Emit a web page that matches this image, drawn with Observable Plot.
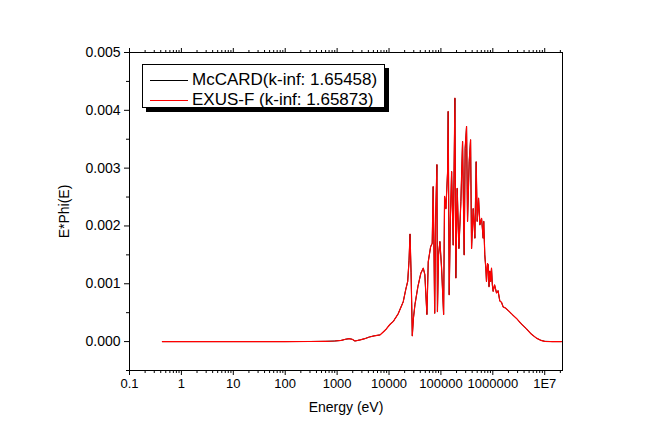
<!DOCTYPE html>
<html>
<head>
<meta charset="utf-8">
<script src="https://cdn.jsdelivr.net/npm/d3@7"></script>
<script src="https://cdn.jsdelivr.net/npm/@observablehq/plot@0.6"></script>
<style>
  html, body { margin: 0; padding: 0; background: #fff; }
  #wrap { position: relative; width: 650px; height: 424px; font-family: "Liberation Sans", Arial, sans-serif; }
  #legend { position: absolute; box-sizing: border-box; left: 142px; top: 64px; width: 243px; height: 44px; background: #fff; border: 1px solid #000; box-shadow: 4px 4px 0 #000; font-size: 17px; }
  .row { position: absolute; left: 7px; height: 20px; display: flex; align-items: center; white-space: nowrap; }
  .sw { width: 38px; height: 0; border-top: 1px solid; margin-right: 4px; }
</style>
</head>
<body>
<div id="wrap"></div>
<script>
// Energy grid (eV)
const energy = [
  0.43, 1, 10, 100, 300, 600, 900, 1200, 1450, 1700,
  1950, 2200, 2500, 2800, 3400, 4200, 5200, 6700, 8500, 10500,
  12100, 15000, 18800, 21000, 22900, 24300, 25400, 26600, 28100, 29500,
  31600, 36000, 41000, 45700, 49000, 53700, 57000, 63300, 68000, 70900,
  73500, 75800, 79000, 83700, 85700, 90000, 95600, 103000, 112700, 117600,
  124700, 134500, 138000, 144400, 152000, 160700, 172600, 186000, 194000, 205800,
  222000, 242500, 261200, 280600, 293100, 311700, 325800, 350500, 372600, 389300,
  418800, 451000, 478000, 500000, 531000, 563000, 607000, 652000, 668000, 700000,
  733000, 755000, 790000, 813000, 845000, 875000, 910000, 943000, 980000, 1015000,
  1080000, 1180000, 1260000, 1365000, 1470000, 1580000, 1750000, 1970000, 2350000, 2860000,
  3500000, 4450000, 5500000, 6920000, 8500000, 10000000, 14000000, 21000000
];
// McCARD E*Phi(E)
const mccard = [
  0, 0, 0, 0, 0.000002, 0.000005, 0.00001, 0.00002, 0.00004, 0.00005,
  0.00004, 0.00001, 0.00002, 0.00003, 0.00005, 0.00008, 0.0001, 0.000115, 0.0002, 0.0003,
  0.00035, 0.00048, 0.00069, 0.0009, 0.00104, 0.0014, 0.00186, 0.0012, 0.0001, 0.0004,
  0.00064, 0.00095, 0.00118, 0.00127, 0.00116, 0.00047, 0.00138, 0.00164, 0.0017, 0.00268,
  0.0016, 0.00049, 0.0021, 0.00306, 0.00052, 0.0015, 0.00173, 0.00127, 0.00047, 0.00251,
  0.0023, 0.00294, 0.00398, 0.00081, 0.0021, 0.00294, 0.00167, 0.00421, 0.0011, 0.00265,
  0.00161, 0.00242, 0.00346, 0.0015, 0.00334, 0.00372, 0.00208, 0.00311, 0.00349, 0.00161,
  0.0023, 0.00179, 0.00311, 0.00208, 0.00248, 0.00202, 0.00213, 0.00179, 0.00208, 0.0015,
  0.00127, 0.00104, 0.00135, 0.00133, 0.00095, 0.00122, 0.00104, 0.00127, 0.00098, 0.00087,
  0.00098, 0.00084, 0.00088, 0.0007, 0.00068, 0.0006, 0.00058, 0.00054, 0.00047, 0.0004,
  0.00031, 0.00022, 0.00013, 0.00006, 0.00002, 0.000005, 0, 0
];
// EXUS-F E*Phi(E)
const exus = [
  0, 0, 0, 0, 0.000002, 0.000005, 0.00001, 0.00002, 0.00004, 0.00005,
  0.00004, 0.00001, 0.00002, 0.00003, 0.00005, 0.00008, 0.0001, 0.000115, 0.0002, 0.0003,
  0.00035, 0.00048, 0.00069, 0.0009, 0.00104, 0.0014, 0.00186, 0.0012, 0.0001, 0.0004,
  0.00064, 0.00095, 0.00118, 0.00127, 0.00116, 0.00047, 0.00138, 0.00164, 0.0017, 0.00268,
  0.0016, 0.00049, 0.0021, 0.00306, 0.00052, 0.0015, 0.00173, 0.00127, 0.00047, 0.00251,
  0.0023, 0.00294, 0.00398, 0.00081, 0.0021, 0.00294, 0.00167, 0.00421, 0.0011, 0.00265,
  0.00161, 0.00242, 0.00346, 0.0015, 0.00334, 0.00372, 0.00208, 0.00311, 0.00349, 0.00161,
  0.0023, 0.00179, 0.00311, 0.00208, 0.00248, 0.00202, 0.00213, 0.00179, 0.00208, 0.0015,
  0.00127, 0.00104, 0.00135, 0.00133, 0.00095, 0.00122, 0.00104, 0.00127, 0.00098, 0.00087,
  0.00098, 0.00084, 0.00088, 0.0007, 0.00068, 0.0006, 0.00058, 0.00054, 0.00047, 0.0004,
  0.00031, 0.00022, 0.00013, 0.00006, 0.00002, 0.000005, 0, 0
];

const xMajor = [0.1, 1, 10, 100, 1000, 10000, 100000, 1000000, 10000000];
const xMajorLabels = ["0.1", "1", "10", "100", "1000", "10000", "100000", "1000000", "1E7"];
const yMajor = [0, 0.001, 0.002, 0.003, 0.004, 0.005];
const yMinor = [-0.0005, 0.0005, 0.0015, 0.0025, 0.0035, 0.0045];
const seriesNames = ["McCARD(k-inf: 1.65458)", "EXUS-F (k-inf: 1.65873)"];
const seriesColors = ["#000000", "#ff0000"];
const xTitle = "Energy (eV)";
const yTitle = "E*Phi(E)";

const xMinor = [];
for (const d of xMajor) for (let k = 2; k <= 9; k++) if (d * k < 2.2e7) xMinor.push(d * k);

const rowsM = energy.map((e, i) => ({e, v: mccard[i]}));
const rowsE = energy.map((e, i) => ({e, v: exus[i]}));
const labelOf = new Map(xMajor.map((d, i) => [d, xMajorLabels[i]]));
const blank = () => "";

const chart = Plot.plot({
  width: 650, height: 424,
  marginLeft: 129, marginRight: 88, marginTop: 52, marginBottom: 54,
  style: {fontFamily: "Liberation Sans, Arial, sans-serif", fontSize: "14px", color: "#000", background: "#fff"},
  x: {type: "log", domain: [0.1, 2.2e7]},
  y: {domain: [-0.0005, 0.005]},
  marks: [
    Plot.frame({stroke: "#000", strokeWidth: 1}),
    Plot.axisX({ticks: xMajor, tickSize: 5, tickPadding: 3, tickFormat: d => labelOf.get(d) ?? "", fontSize: 13, label: null}),
    Plot.axisX({ticks: xMinor, tickSize: 3, tickFormat: blank, label: null}),
    Plot.axisX({anchor: "top", ticks: xMajor, tickSize: 5, tickFormat: blank, label: null}),
    Plot.axisX({anchor: "top", ticks: xMinor, tickSize: 3, tickFormat: blank, label: null}),
    Plot.text([xTitle], {frameAnchor: "bottom", dy: 41, fontSize: 14, text: d => d, fill: "#000"}),
    Plot.axisY({ticks: yMajor, tickSize: 5, tickPadding: 4, tickFormat: d3.format(".3f"), fontSize: 14,
      label: yTitle, labelAnchor: "center", labelArrow: "none", labelOffset: 70}),
    Plot.axisY({ticks: yMinor, tickSize: 3, tickFormat: blank, label: null}),
    Plot.line(rowsM, {x: "e", y: "v", stroke: seriesColors[0], strokeWidth: 1}),
    Plot.line(rowsE, {x: "e", y: "v", stroke: seriesColors[1], strokeWidth: 1.2})
  ]
});

const wrap = document.getElementById("wrap");
wrap.appendChild(chart);
const legend = document.createElement("div");
legend.id = "legend";
seriesNames.forEach((name, i) => {
  const row = document.createElement("div");
  row.className = "row";
  row.style.top = (i === 0 ? 5 : 25) + "px";
  const sw = document.createElement("span");
  sw.className = "sw";
  sw.style.borderTopColor = seriesColors[i];
  const t = document.createElement("span");
  t.textContent = name;
  row.appendChild(sw); row.appendChild(t);
  legend.appendChild(row);
});
wrap.appendChild(legend);
</script>
</body>
</html>
